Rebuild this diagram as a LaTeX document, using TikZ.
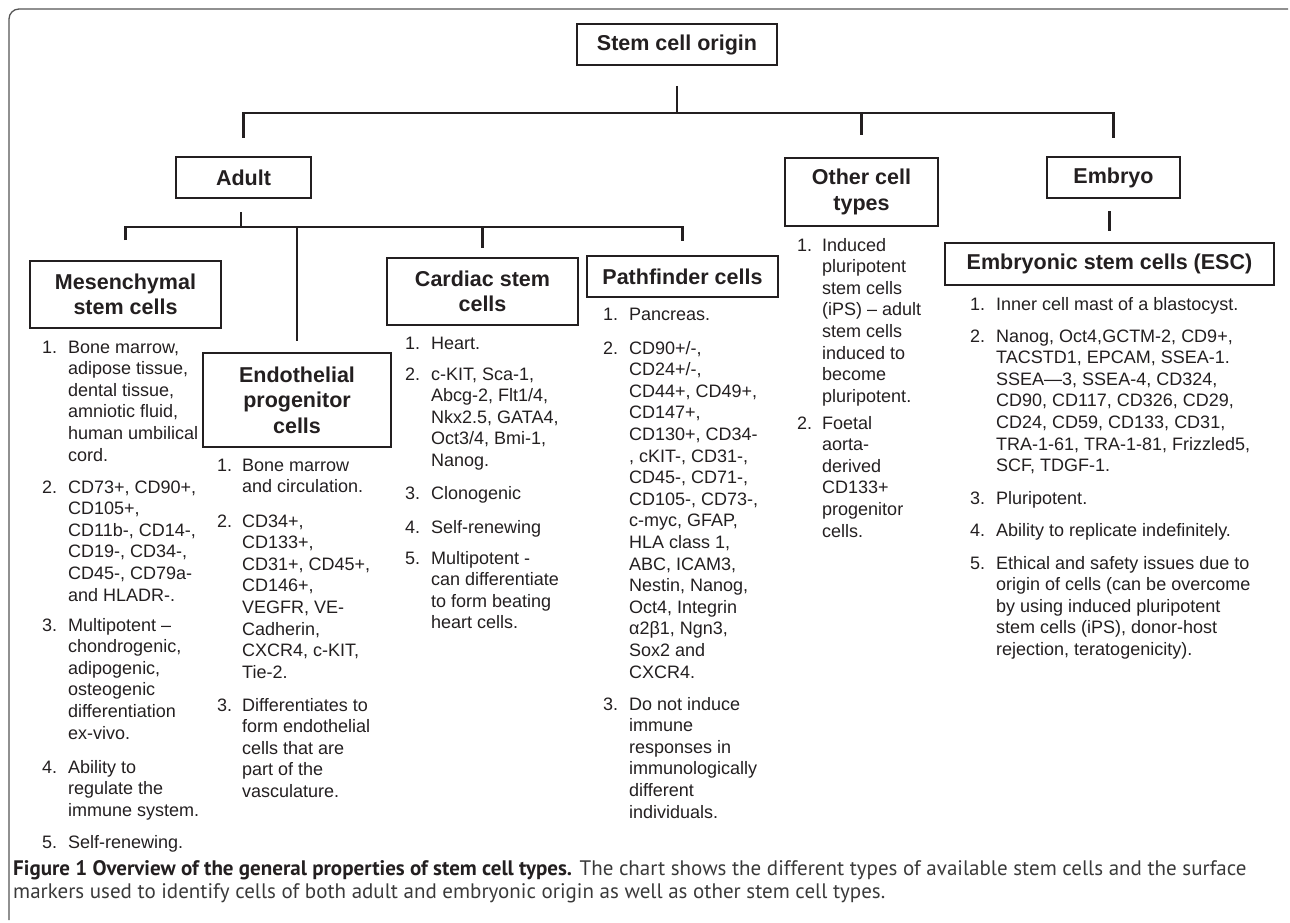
\documentclass[tikz,border=0pt]{standalone}
\usepackage{fontspec}
\setmainfont{Liberation Sans}
\newfontfamily\capfont{PT Sans}
\definecolor{ink}{HTML}{231F20}
\definecolor{capgray}{HTML}{3A3A3A}
\definecolor{framegray}{HTML}{555555}
\newcommand\titlefnt{\fontsize{21.5}{25.5}\selectfont\bfseries}
\newcommand\listfnt{\fontsize{18}{21.6}\selectfont}
\newcommand\capfnt{\capfont\fontsize{21}{23}\selectfont}
\begin{document}
\begin{tikzpicture}[x=1pt,y=-1pt,
  box/.style={draw=ink, line width=2.4pt, fill=white, inner sep=0pt, align=center, font=\titlefnt, text=ink},
  conn/.style={draw=ink, line width=2.4pt},
  num/.style={anchor=base west, inner sep=0pt, font=\listfnt, text=ink},
  itm/.style={anchor=base west, inner sep=0pt, font=\listfnt, text=ink},
  captext/.style={anchor=base west, inner sep=0pt, font=\capfnt, text=capgray},
  frameline/.style={draw=framegray, line width=1.3pt}]
\useasboundingbox (0,0) rectangle (1290,923);
% frame
\draw[frameline, rounded corners=10pt] (9,920) -- (9,9) -- (1288,9);

% boxes
\node[box, minimum width=200pt, minimum height=41pt] (origin) at (677,44.5) {Stem cell origin};
\node[box, minimum width=135pt, minimum height=41pt] (adult) at (243.5,177.5) {Adult};
\node[box, minimum width=153pt, minimum height=68pt] (other) at (861.5,192) {Other cell\\types};
\node[box, minimum width=133pt, minimum height=41pt] (embryo) at (1113.5,177.5) {Embryo};
\node[box, minimum width=191pt, minimum height=67pt] (mes) at (125.5,294.5) {Mesenchymal\\stem cells};
\node[box, minimum width=188pt, minimum height=94pt] (endo) at (297,400) {Endothelial\\progenitor\\cells};
\node[box, minimum width=191pt, minimum height=67pt] (card) at (482.5,291.5) {Cardiac stem\\cells};
\node[box, minimum width=191pt, minimum height=41pt] (path) at (682.5,276.5) {Pathfinder cells};
\node[box, minimum width=329pt, minimum height=42pt] (esc) at (1109.5,264) {Embryonic stem cells (ESC)};

% connector coordinates
\coordinate (rootA) at (677,86);
\coordinate (rootB) at (677,113);
\coordinate (busAd) at (243.5,113);
\coordinate (busEm) at (1113.5,113);
\coordinate (busOt) at (861.5,113);
\coordinate (dropAd) at (243.5,138);
\coordinate (dropOt) at (861.5,135);
\coordinate (dropEm) at (1113.5,138);
\coordinate (adA) at (241,212);
\coordinate (adB) at (241,227);
\coordinate (abMes) at (125.5,227);
\coordinate (abEndo) at (297,227);
\coordinate (abCard) at (482.5,227);
\coordinate (abPath) at (682.5,227);
\coordinate (dMes) at (125.5,240);
\coordinate (dEndo) at (297,341);
\coordinate (dCard) at (482.5,248);
\coordinate (dPath) at (682.5,241);
\coordinate (emA) at (1109.5,211);
\coordinate (emB) at (1109.5,231);

\draw[conn] (rootA) -- (rootB);
\draw[conn] (dropAd) -- (busAd) -- (busEm) -- (dropEm);
\draw[conn] (busOt) -- (dropOt);
\draw[conn] (adA) -- (adB);
\draw[conn] (dMes) -- (abMes) -- (abPath) -- (dPath);
\draw[conn] (abEndo) -- (dEndo);
\draw[conn] (abCard) -- (dCard);
\draw[conn] (emA) -- (emB);

% Mesenchymal list
\node[num] (m1n) at (42,353) {1.};
\node[itm] (m1) at (68,353) {\parbox[t]{250pt}{Bone marrow,\\adipose tissue,\\dental tissue,\\amniotic fluid,\\human umbilical\\cord.}};
\node[num] (m2n) at (42,493) {2.};
\node[itm] (m2) at (68,493) {\parbox[t]{250pt}{CD73+, CD90+,\\CD105+,\\CD11b-, CD14-,\\CD19-, CD34-,\\CD45-, CD79a-\\and HLADR-.}};
\node[num] (m3n) at (42,631) {3.};
\node[itm] (m3) at (68,631) {\parbox[t]{250pt}{Multipotent –\\chondrogenic,\\adipogenic,\\osteogenic\\differentiation\\ex-vivo.}};
\node[num] (m4n) at (42,773) {4.};
\node[itm] (m4) at (68,773) {\parbox[t]{250pt}{Ability to\\regulate the\\immune system.}};
\node[num] (m5n) at (42,848) {5.};
\node[itm] (m5) at (68,848) {\parbox[t]{250pt}{Self-renewing.}};

% Endothelial list
\node[num] (e1n) at (217,471) {1.};
\node[itm] (e1) at (242,471) {\parbox[t]{250pt}{Bone marrow\\and circulation.}};
\node[num] (e2n) at (217,527) {2.};
\node[itm] (e2) at (242,527) {\parbox[t]{250pt}{CD34+,\\CD133+,\\CD31+, CD45+,\\CD146+,\\VEGFR, VE-\\Cadherin,\\CXCR4, c-KIT,\\Tie-2.}};
\node[num] (e3n) at (217,711) {3.};
\node[itm] (e3) at (242,711) {\parbox[t]{250pt}{Differentiates to\\form endothelial\\cells that are\\part of the\\vasculature.}};

% Cardiac list
\node[num] (c1n) at (405,349) {1.};
\node[itm] (c1) at (431,349) {\parbox[t]{250pt}{Heart.}};
\node[num] (c2n) at (405,380) {2.};
\node[itm] (c2) at (431,380) {\parbox[t]{250pt}{c-KIT, Sca-1,\\Abcg-2, Flt1/4,\\Nkx2.5, GATA4,\\Oct3/4, Bmi-1,\\Nanog.}};
\node[num] (c3n) at (405,499) {3.};
\node[itm] (c3) at (431,499) {\parbox[t]{250pt}{Clonogenic}};
\node[num] (c4n) at (405,533) {4.};
\node[itm] (c4) at (431,533) {\parbox[t]{250pt}{Self-renewing}};
\node[num] (c5n) at (405,564) {5.};
\node[itm] (c5) at (431,564) {\parbox[t]{250pt}{Multipotent -\\can differentiate\\to form beating\\heart cells.}};

% Pathfinder list
\node[num] (p1n) at (603,320) {1.};
\node[itm] (p1) at (629,320) {\parbox[t]{250pt}{Pancreas.}};
\node[num] (p2n) at (603,354) {2.};
\node[itm] (p2) at (629,354) {\parbox[t]{250pt}{CD90+/-,\\CD24+/-,\\CD44+, CD49+,\\CD147+,\\CD130+, CD34-\\, cKIT-, CD31-,\\CD45-, CD71-,\\CD105-, CD73-,\\c-myc, GFAP,\\HLA class 1,\\ABC, ICAM3,\\Nestin, Nanog,\\Oct4, Integrin\\α2β1, Ngn3,\\Sox2 and\\CXCR4.}};
\node[num] (p3n) at (603,710) {3.};
\node[itm] (p3) at (629,710) {\parbox[t]{250pt}{Do not induce\\immune\\responses in\\immunologically\\different\\individuals.}};

% Other cell types list
\node[num] (o1n) at (797,251) {1.};
\node[itm] (o1) at (822,251) {\parbox[t]{250pt}{Induced\\pluripotent\\stem cells\\(iPS) – adult\\stem cells\\induced to\\become\\pluripotent.}};
\node[num] (o2n) at (797,429) {2.};
\node[itm] (o2) at (822,429) {\parbox[t]{250pt}{Foetal\\aorta-\\derived\\CD133+\\progenitor\\cells.}};

% ESC list
\node[num] (s1n) at (970,310) {1.};
\node[itm] (s1) at (996,310) {\parbox[t]{300pt}{Inner cell mast of a blastocyst.}};
\node[num] (s2n) at (970,342) {2.};
\node[itm] (s2) at (996,342) {\parbox[t]{300pt}{Nanog, Oct4,GCTM-2, CD9+,\\TACSTD1, EPCAM, SSEA-1.\\SSEA—3, SSEA-4, CD324,\\CD90, CD117, CD326, CD29,\\CD24, CD59, CD133, CD31,\\TRA-1-61, TRA-1-81, Frizzled5,\\SCF, TDGF-1.}};
\node[num] (s3n) at (970,504) {3.};
\node[itm] (s3) at (996,504) {\parbox[t]{300pt}{Pluripotent.}};
\node[num] (s4n) at (970,536) {4.};
\node[itm] (s4) at (996,536) {\parbox[t]{300pt}{Ability to replicate indefinitely.}};
\node[num] (s5n) at (970,569) {5.};
\node[itm] (s5) at (996,569) {\parbox[t]{300pt}{Ethical and safety issues due to\\origin of cells (can be overcome\\by using induced pluripotent\\stem cells (iPS), donor-host\\rejection, teratogenicity).}};

% caption
\node[captext] (cap1) at (13,875) {\textcolor{ink}{\bfseries Figure 1 Overview of the general properties of stem cell types.} The chart shows the different types of available stem cells and the surface};
\node[captext] (cap2) at (13,898) {markers used to identify cells of both adult and embryonic origin as well as other stem cell types.};
\end{tikzpicture}
\end{document}
